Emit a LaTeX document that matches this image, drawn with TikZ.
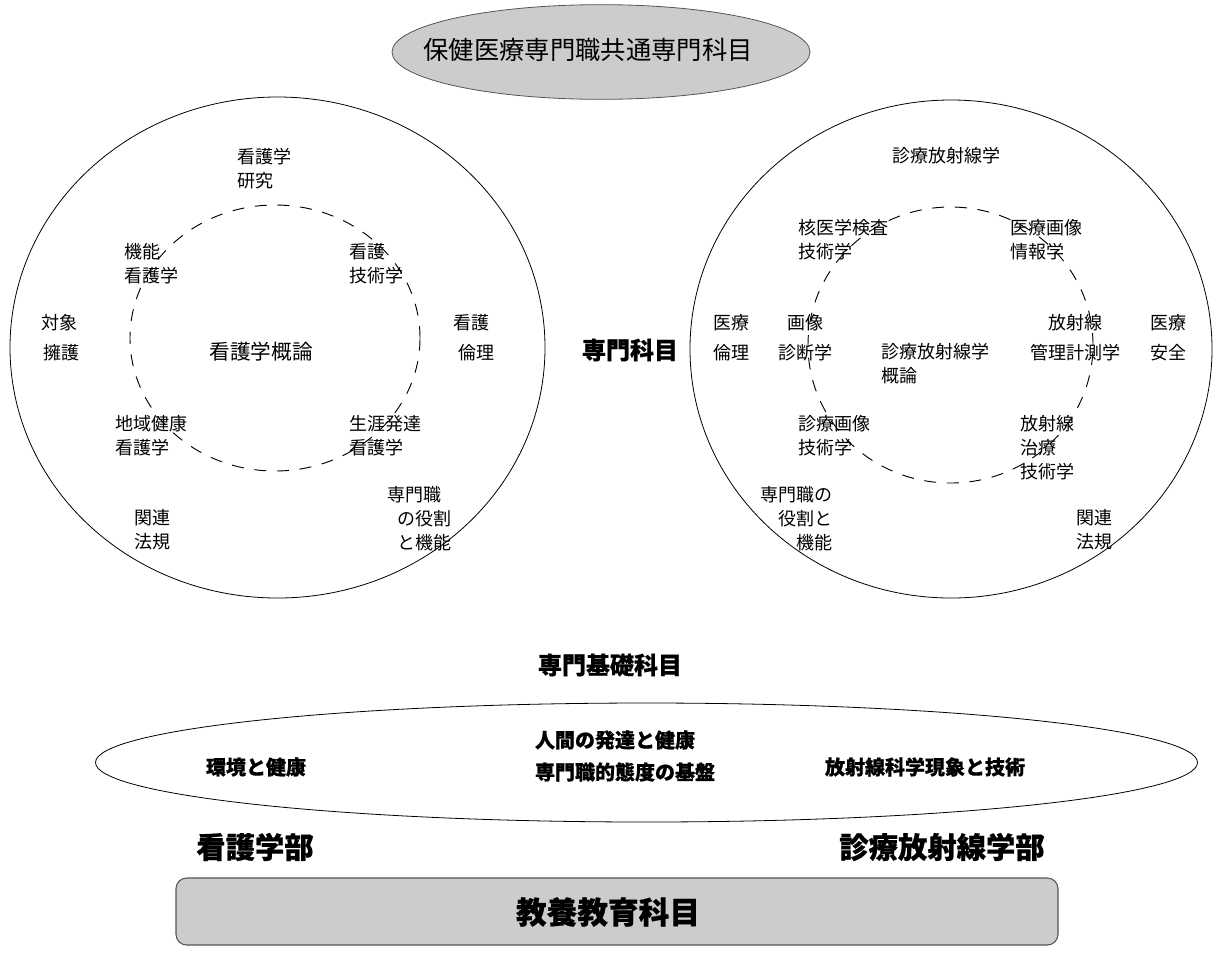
\documentclass[tikz,border=0pt]{standalone}
\usepackage{fontspec}
\setmainfont{Noto Sans CJK JP}
\newfontfamily\hvy{Noto Sans CJK JP}[FakeBold=0.6]
\usetikzlibrary{shapes.geometric}
\definecolor{grayfill}{HTML}{CCCCCC}
\definecolor{edgegray}{HTML}{555555}
\begin{document}
\begin{tikzpicture}[x=0.75pt,y=-0.75pt,
  lbl/.style={font=\fontsize{13.5}{18}\selectfont, inner sep=0pt, align=left, anchor=west},
  bigc/.style={ellipse, draw, line width=0.6pt, inner sep=0pt, outer sep=0pt},
  dashc/.style={ellipse, draw, line width=0.7pt, dash pattern=on 9pt off 8pt, inner sep=0pt, outer sep=0pt},
  head/.style={font=\hvy\bfseries\fontsize{18}{20}\selectfont, inner sep=0pt},
  btxt/.style={font=\hvy\bfseries\fontsize{15}{18}\selectfont, inner sep=0pt},
  dept/.style={font=\hvy\bfseries\fontsize{22}{24}\selectfont, inner sep=0pt}]
\path[use as bounding box] (0,0) rectangle (1220,958);

% top ellipse
\node[ellipse, draw=edgegray, line width=0.6pt, fill=grayfill, minimum width=313.5pt, minimum height=71pt, inner sep=0pt] (te) at (601,52) {};
\node[inner sep=0pt, font=\fontsize{19}{22}\selectfont] (tt) at (588,50) {保健医療専門職共通専門科目};

% left circles
\node[bigc, minimum width=401.25pt, minimum height=375.75pt] (lc) at (277.5,347.5) {};
\node[dashc, minimum width=217.5pt, minimum height=199.5pt] (ld) at (275,338) {};

% right circles
\node[bigc, minimum width=391.5pt, minimum height=373.5pt] (rc) at (951,349) {};
\node[dashc, minimum width=213.75pt, minimum height=207pt] (rd) at (950.5,345) {};

% left labels
\node[lbl] (l1) at (237,168.5) {看護学\\研究};
\node[lbl] (l2) at (124,263.5) {機能\\看護学};
\node[lbl] (l3) at (349,263.5) {看護\\技術学};
\node[lbl] (l4) at (41,338) {対象\\[4.5pt]\hspace*{1.5pt}擁護};
\node[lbl, font=\fontsize{15.5}{18}\selectfont, anchor=center] (l5) at (261,352) {看護学概論};
\node[lbl] (l6) at (453,338) {看護\\[4.5pt]\hspace*{3.75pt}倫理};
\node[lbl] (l7) at (115,435.5) {地域健康\\看護学};
\node[lbl] (l8) at (349,435.5) {生涯発達\\看護学};
\node[lbl] (l9) at (134,530) {関連\\法規};
\node[lbl] (l10) at (387,519) {専門職\\\hspace*{7.5pt}の役割\\\hspace*{7.5pt}と機能};

% right labels
\node[lbl, anchor=center] (r1) at (946,156) {診療放射線学};
\node[lbl] (r2) at (798,239.5) {核医学検査\\技術学};
\node[lbl] (r3) at (1010,239.5) {医療画像\\情報学};
\node[lbl] (r4) at (713,338) {医療\\[4.5pt]倫理};
\node[lbl, align=center, anchor=center] (r5) at (805,338) {画像\\[4.5pt]診断学};
\node[lbl] (r6) at (881,364) {診療放射線学\\概論};
\node[lbl, align=center, anchor=center] (r7) at (1075,338) {放射線\\[4.5pt]管理計測学};
\node[lbl] (r8) at (1150,338) {医療\\[4.5pt]安全};
\node[lbl] (r9) at (798,435.5) {診療画像\\技術学};
\node[lbl] (r10) at (1020,447.5) {放射線\\治療\\技術学};
\node[lbl, align=right, anchor=east] (r11) at (833,519) {専門職の\\役割と\\機能};
\node[lbl] (r12) at (1076,530) {関連\\法規};

% headings
\node[head] (sm) at (630,350) {専門科目};
\node[head] (sk) at (610,665) {専門基礎科目};

% bottom ellipse
\node[ellipse, draw, line width=0.6pt, minimum width=826.5pt, minimum height=89.25pt, inner sep=0pt] (be) at (646.5,762.5) {};
\node[btxt] (b1) at (256,767) {環境と健康};
\node[btxt] (b2) at (615,740) {人間の発達と健康};
\node[btxt] (b3) at (625,772) {専門職的態度の基盤};
\node[btxt] (b4) at (925,767) {放射線科学現象と技術};

% departments
\node[dept] (d1) at (255,847) {看護学部};
\node[dept] (d2) at (942,847) {診療放射線学部};

% bottom box
\node[draw=edgegray, line width=0.8pt, fill=grayfill, rounded corners=8pt, minimum width=661.5pt, minimum height=50.25pt, inner sep=0pt] (box) at (617,911.5) {};
\node[dept, font=\hvy\bfseries\fontsize{23}{25}\selectfont] (bx) at (608,912) {教養教育科目};
\end{tikzpicture}
\end{document}
